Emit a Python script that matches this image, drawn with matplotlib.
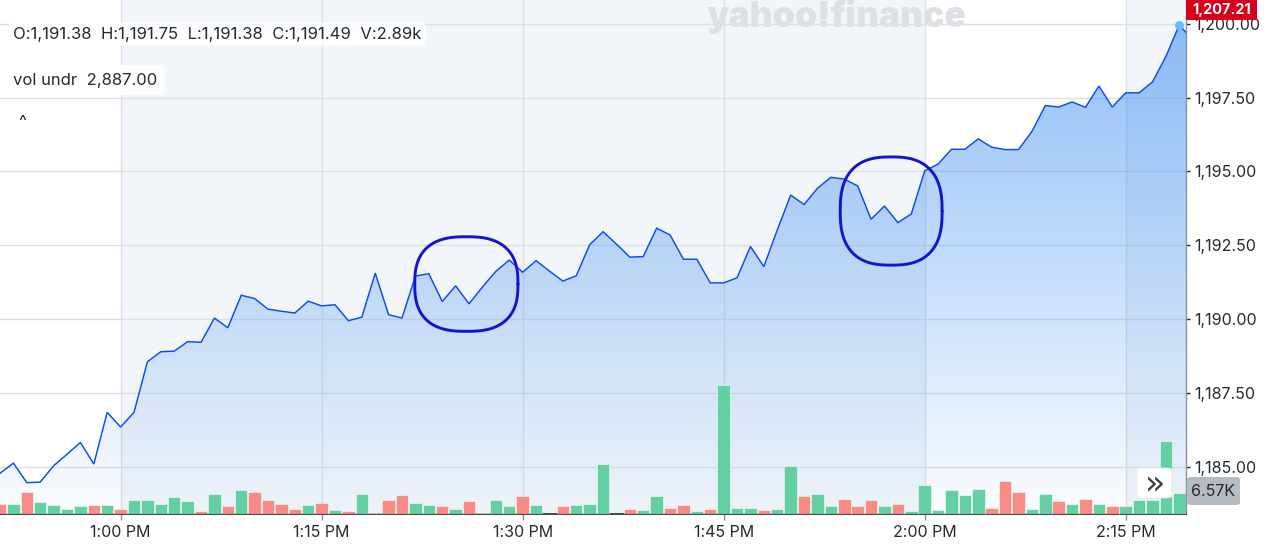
import numpy as np
import matplotlib
matplotlib.use("Agg")
import matplotlib.pyplot as plt
from matplotlib.patches import Rectangle, FancyBboxPatch, PathPatch
from matplotlib.path import Path

# ---------------- data ----------------
# minutes since 12:00 PM
price_minutes = list(range(51, 140)) + [139.5]
price_values = [
    1184.79, 1185.13, 1184.47, 1184.49, 1185.04, 1185.43, 1185.83, 1185.10, 1186.85, 1186.35,
    1186.85, 1188.56, 1188.90, 1188.92, 1189.24, 1189.22, 1190.04, 1189.71, 1190.81, 1190.70,
    1190.34, 1190.27, 1190.21, 1190.61, 1190.45, 1190.49, 1189.95, 1190.07, 1191.56, 1190.15,
    1190.04, 1191.46, 1191.54, 1190.60, 1191.13, 1190.52, 1191.09, 1191.62, 1192.00, 1191.59,
    1191.98, 1191.63, 1191.29, 1191.47, 1192.52, 1192.96, 1192.54, 1192.10, 1192.12, 1193.08,
    1192.85, 1192.03, 1192.03, 1191.23, 1191.23, 1191.40, 1192.46, 1191.78, 1193.02, 1194.20,
    1193.88, 1194.43, 1194.80, 1194.74, 1194.51, 1193.38, 1193.83, 1193.27, 1193.56, 1195.02,
    1195.25, 1195.75, 1195.75, 1196.10, 1195.82, 1195.74, 1195.74, 1196.35, 1197.23, 1197.18,
    1197.35, 1197.17, 1197.89, 1197.18, 1197.66, 1197.66, 1198.03, 1198.89, 1199.96, 1199.70,
]
vol_minutes = list(range(51, 140))
volumes_k = [
    3.15, 3.15, 6.63, 3.58, 2.84, 1.62, 2.44, 2.84, 2.84, 1.62,
    4.28, 4.28, 3.15, 5.10, 3.97, 0.92, 6.20, 2.44, 7.33, 6.63,
    4.28, 3.15, 1.62, 2.75, 3.45, 1.22, 0.83, 6.11, 0.40, 4.28,
    5.81, 3.45, 2.75, 2.44, 1.53, 3.88, 0.40, 4.28, 2.44, 5.50,
    2.75, 0.00, 2.44, 2.75, 3.15, 15.28, 0.00, 1.53, 1.22, 5.50,
    1.93, 2.75, 0.92, 1.53, 39.42, 1.93, 1.93, 1.22, 1.53, 14.67,
    5.50, 6.11, 2.44, 4.58, 2.44, 4.28, 2.44, 3.15, 0.83, 8.86,
    1.22, 7.33, 5.81, 7.73, 1.93, 9.99, 6.63, 1.62, 6.20, 3.88,
    3.15, 4.58, 3.15, 2.35, 2.44, 4.28, 4.28, 22.31, 6.57,
]
vol_dir = (
    ["d", "u", "d", "u", "u", "u", "u", "d", "u", "d"] +
    ["u", "u", "u", "u", "u", "d", "u", "d", "u", "d"] +
    ["d", "d", "d", "u", "d", "u", "d", "u", "u", "d"] +
    ["d", "u", "u", "d", "u", "d", "u", "u", "u", "d"] +
    ["u", "u", "d", "u", "u", "u", "u", "d", "u", "u"] +
    ["d", "d", "u", "d", "u", "u", "u", "d", "u", "u"] +
    ["d", "u", "u", "d", "d", "d", "u", "d", "u", "u"] +
    ["u", "u", "u", "u", "d", "d", "d", "u", "u", "d"] +
    ["u", "d", "u", "d", "u", "u", "u", "u", "u"]
)
xtick_minutes = [60, 75, 90, 105, 120, 135]
xtick_labels = ["1:00 PM", "1:15 PM", "1:30 PM", "1:45 PM", "2:00 PM", "2:15 PM"]
ytick_values = [1185.0, 1187.5, 1190.0, 1192.5, 1195.0, 1197.5, 1200.0]
shaded_bands = [(60, 120), (135, 139.5)]
# hand-drawn highlight loops (center minute, center price, half width in min, half height in price)
loops = [(85.8, 1191.19, 3.85, 1.60), (117.5, 1193.66, 3.8, 1.83)]

# ---------------- layout ----------------
W, H = 1282, 554
fig = plt.figure(figsize=(W / 100, H / 100), dpi=100)
fig.patch.set_facecolor("white")
rect = [0, 40 / H, 1186 / W, 514 / H]
ax = fig.add_axes(rect)
XMIN, XMAX = 51.0, 139.5
YMIN, YMAX = 1183.41, 1200.80

TXT = "#232a31"
FONT = "Inter"
LS = 11.5

ax.set_facecolor("white")
for a, b in shaded_bands:
    ax.axvspan(a, b, color="#f2f5f9", lw=0, zorder=0.1)
ax.grid(True, color="#dde1e6", lw=1.0, zorder=0.5)
ax.set_axisbelow(True)

# gradient fill
grad = np.linspace(0, 1, 256).reshape(-1, 1)
rgba = np.zeros((256, 1, 4))
rgba[..., 0] = 0.24
rgba[..., 1] = 0.56
rgba[..., 2] = 0.95
rgba[..., 3] = 0.02 + 0.58 * grad
img = ax.imshow(rgba, extent=[XMIN, XMAX, YMIN, YMAX], origin="lower",
                aspect="auto", zorder=1, interpolation="bilinear")
clip = Path(np.vstack([
    np.column_stack([price_minutes, price_values]),
    [[price_minutes[-1], YMIN], [price_minutes[0], YMIN], [price_minutes[0], price_values[0]]]
]))
img.set_clip_path(PathPatch(clip, transform=ax.transData))

ax.plot(price_minutes, price_values, color="#0a4cf2", lw=1.05, zorder=3, solid_joinstyle="miter")
ax.plot([price_minutes[-2]], [price_values[-2]], "o", color="#5cc2f7", ms=6.5, mec="none",
        zorder=6, clip_on=False)

# hand-drawn loops
t = np.linspace(0, 2 * np.pi, 200)
for cx, cy, hw, hh in loops:
    n = 2.6
    xs = cx + hw * np.sign(np.cos(t)) * np.abs(np.cos(t)) ** (2 / n)
    ys = cy + hh * np.sign(np.sin(t)) * np.abs(np.sin(t)) ** (2 / n)
    ax.plot(xs, ys, color="#1414cf", lw=2.1, zorder=4, solid_capstyle="round")

ax.set_xlim(XMIN, XMAX)
ax.set_ylim(YMIN, YMAX)

ax.yaxis.tick_right()
ax.set_yticks(ytick_values)
ax.set_yticklabels([f"{v:,.2f}" for v in ytick_values])
ax.set_xticks(xtick_minutes)
ax.set_xticklabels(xtick_labels)
ax.tick_params(axis="x", direction="out", length=4.5, width=1.0, color="#8a929b",
               labelcolor=TXT, labelsize=LS, pad=3.5)
ax.tick_params(axis="y", direction="out", length=3, width=1.0, color=TXT,
               labelcolor=TXT, labelsize=LS, pad=3)
for lab in ax.get_xticklabels() + ax.get_yticklabels():
    lab.set_family(FONT)
for s in ["top", "left"]:
    ax.spines[s].set_visible(False)
ax.spines["bottom"].set_color(TXT)
ax.spines["bottom"].set_linewidth(1.2)
ax.spines["right"].set_color("#8a929b")
ax.spines["right"].set_linewidth(1.0)

# volume axes
axv = fig.add_axes(rect, sharex=ax)
axv.patch.set_visible(False)
axv.axis("off")
colors = ["#5ccf9f" if d == "u" else "#f7877f" for d in vol_dir]
axv.bar(vol_minutes, volumes_k, width=0.93, color=colors, edgecolor="white",
        linewidth=0.4, alpha=0.95, zorder=2)
axv.set_ylim(0, 157.1)
axv.set_xlim(XMIN, XMAX)


def fx(x):
    return x / W


def fy(y):
    return 1 - y / H


# watermark
fig.text(fx(707), fy(27), "yahoo!finance", fontsize=25.5, family=FONT, weight="black",
         color="#dde1e6", ha="left", va="baseline", zorder=2)

# top-left info boxes
fig.text(fx(13), fy(34), "O:1,191.38  H:1,191.75  L:1,191.38  C:1,191.49  V:2.89k",
         fontsize=12, family=FONT, color=TXT, ha="left", va="center", zorder=5,
         bbox=dict(boxstyle="round,pad=0.25,rounding_size=0.3", fc="white", ec="none", alpha=0.85))
fig.text(fx(13), fy(80), "vol undr  2,887.00",
         fontsize=12, family=FONT, color=TXT, ha="left", va="center", zorder=5,
         bbox=dict(boxstyle="round,pad=0.45,rounding_size=0.3", fc="white", ec="none", alpha=0.85))
fig.text(fx(22), fy(122), "^", fontsize=12, family=FONT, color=TXT, ha="center", va="center", zorder=5)

# current price tag
fig.patches.append(Rectangle((fx(1186), fy(20)), (1257 - 1186) / W, 20 / H,
                             transform=fig.transFigure, fc="#d8001f", ec="none", zorder=6))
fig.text(fx(1221.5), fy(10), "1,207.21", fontsize=10.5, family=FONT, weight="bold",
         color="white", ha="center", va="center", zorder=7)

# volume tag
fig.patches.append(FancyBboxPatch((fx(1187), fy(505)), (1240 - 1187) / W, (505 - 477) / H,
                                  boxstyle="round,pad=0,rounding_size=0.004",
                                  transform=fig.transFigure, fc="#b7bbc2", ec="none", zorder=6))
fig.text(fx(1213.5), fy(491), "6.57K", fontsize=11.5, family=FONT, color=TXT,
         ha="center", va="center", zorder=7)

# scroll button
fig.patches.append(FancyBboxPatch((fx(1137), fy(498)), (1172 - 1137) / W, (498 - 468) / H,
                                  boxstyle="round,pad=0,rounding_size=0.004",
                                  transform=fig.transFigure, fc="white", ec="#e6e8eb", lw=0.5,
                                  zorder=6))
fig.text(fx(1155), fy(485), "»", fontsize=24, family="DejaVu Sans", color="#3c4149",
         ha="center", va="center", zorder=7)

fig.savefig("out.png", dpi=100, facecolor="white")
